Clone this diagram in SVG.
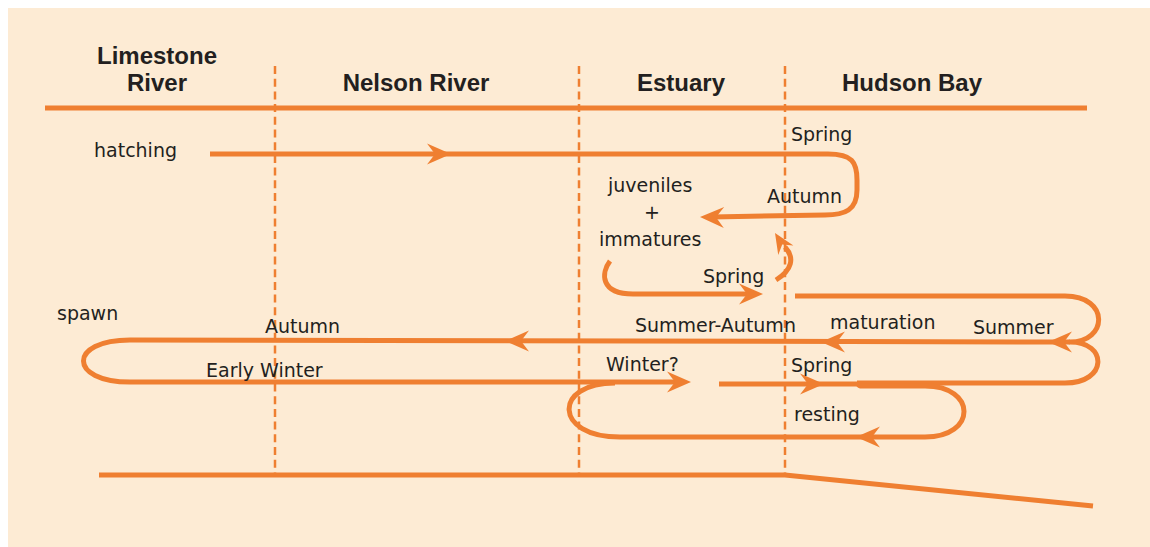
<svg xmlns="http://www.w3.org/2000/svg" xmlns:xlink="http://www.w3.org/1999/xlink" width="1150" height="547" viewBox="0 0 1150 547">
<style>
.hdr{font-family:"Liberation Sans",Arial,sans-serif;font-weight:bold;font-size:24px;fill:#231F20;text-anchor:middle}
.lbl{font-family:"DejaVu Sans","Liberation Sans",sans-serif;font-size:19px;fill:#231F20}
.axis{stroke:#EF7F31;stroke-width:5;fill:none}
.zone{stroke:#EF7F31;stroke-width:2.5;stroke-dasharray:8 4.7;fill:none}
.flow{stroke:#EF7F31;stroke-width:5;fill:none;stroke-linejoin:round}
.ah{fill:#EF7F31}
</style>
<defs>
<path id="ah" d="M0,0 L-24,-10.5 L-16,0 L-24,10.5 Z"/>
</defs>
<rect x="8" y="8" width="1142" height="539" fill="#FDEBD4"/>

<g id="frame">
<line class="axis" x1="45" y1="108" x2="1087" y2="108"/>
<polyline class="axis" points="99,475 785,475 1093,506"/>
<line class="zone" x1="275" y1="66" x2="275" y2="473"/>
<line class="zone" x1="579" y1="66" x2="579" y2="473"/>
<line class="zone" x1="785" y1="66" x2="785" y2="473"/>
</g>

<g id="headers">
<text class="hdr" x="157" y="64">Limestone</text>
<text class="hdr" x="157" y="91">River</text>
<text class="hdr" x="416" y="91">Nelson River</text>
<text class="hdr" x="681" y="91">Estuary</text>
<text class="hdr" x="912" y="91">Hudson Bay</text>
</g>

<g id="connectors">
<path class="flow" d="M210,154 L828,154 C852,154 857,162 857,180 L857,190 C857,210 845,215 825,215 L712,217"/>
<use href="#ah" class="ah" transform="translate(451,154)"/>
<use href="#ah" class="ah" transform="translate(700,217) rotate(181)"/>

<path class="flow" d="M610,261 C601,273 600,294 633,294 L752,294"/>
<use href="#ah" class="ah" transform="translate(763,294)"/>

<path class="flow" d="M776,280 C792,270 795,258 785,247"/>
<use href="#ah" class="ah" transform="translate(775,233) rotate(-122) scale(0.85)"/>

<path class="flow" d="M795,296 L1065,296 C1110,296 1108,342 1070,342 C1108,342 1108,383 1065,383 L857,383"/>
<path class="flow" d="M1070,342 L130,340 C68,340 68,382 130,382 L680,382"/>
<use href="#ah" class="ah" transform="translate(1048,342) rotate(180)"/>
<use href="#ah" class="ah" transform="translate(821,342) rotate(180)"/>
<use href="#ah" class="ah" transform="translate(505,341) rotate(180)"/>
<use href="#ah" class="ah" transform="translate(691,382)"/>

<path class="flow" d="M719,384 L857,384 L860,386 L925,386 C977,386 977,437 925,437 L620,437 C553,437 553,383 615,383"/>
<use href="#ah" class="ah" transform="translate(824,384)"/>
<use href="#ah" class="ah" transform="translate(856,437) rotate(180)"/>
</g>

<g id="labels">
<text class="lbl" x="94" y="157">hatching</text>
<text class="lbl" x="791" y="141">Spring</text>
<text class="lbl" x="608" y="192">juveniles</text>
<text class="lbl" x="652" y="219" text-anchor="middle">+</text>
<text class="lbl" x="599" y="246">immatures</text>
<text class="lbl" x="767" y="203">Autumn</text>
<text class="lbl" x="703" y="283">Spring</text>
<text class="lbl" x="57" y="320">spawn</text>
<text class="lbl" x="265" y="333">Autumn</text>
<text class="lbl" x="635" y="332">Summer-Autumn</text>
<text class="lbl" x="830" y="329">maturation</text>
<text class="lbl" x="973" y="334">Summer</text>
<text class="lbl" x="206" y="377">Early Winter</text>
<text class="lbl" x="606" y="371">Winter?</text>
<text class="lbl" x="791" y="372">Spring</text>
<text class="lbl" x="794" y="421">resting</text>
</g>
</svg>
